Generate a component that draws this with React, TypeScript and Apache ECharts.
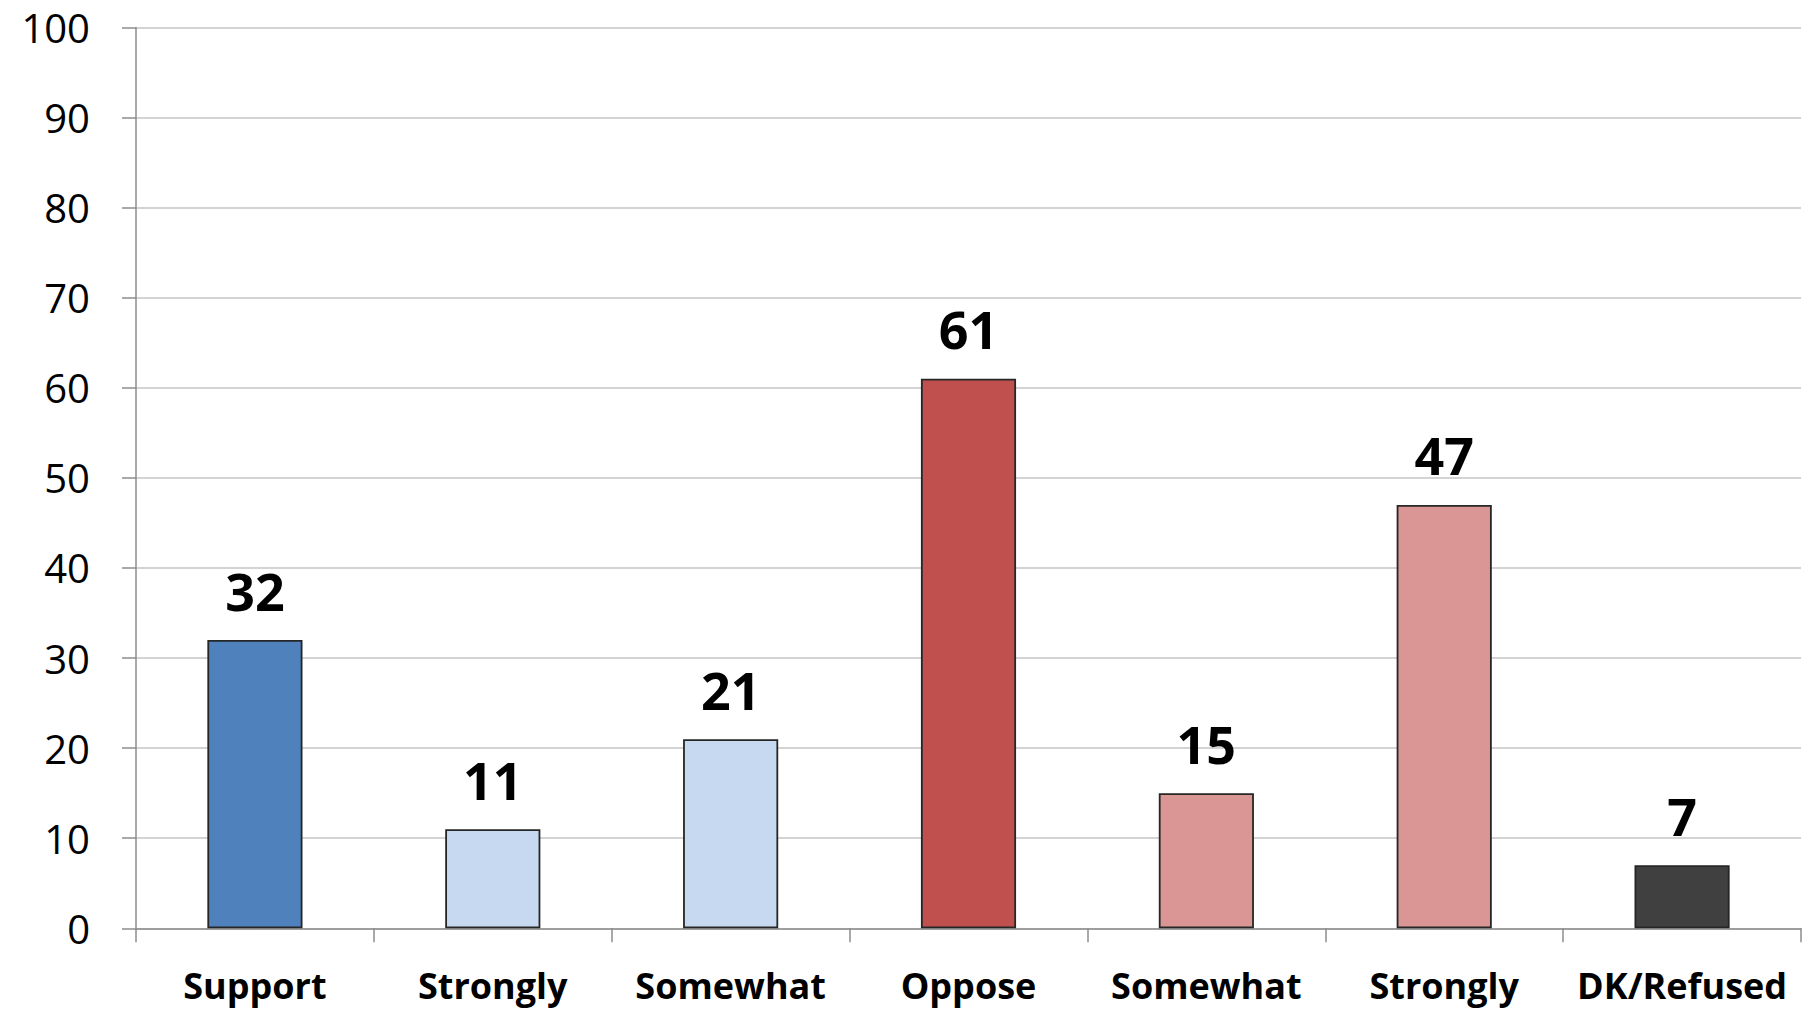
import React, { useEffect, useRef } from "react";
import * as echarts from "echarts";

const categories = ["Support", "Strongly", "Somewhat", "Oppose", "Somewhat", "Strongly", "DK/Refused"];
const values = [32, 11, 21, 61, 15, 47, 7];
const barColors = ["#4F81BD", "#C6D9F1", "#C6D9F1", "#C0504D", "#D99694", "#D99694", "#404040"];
const yTicks = { min: 0, max: 100, interval: 10 };

export default function App() {
  const ref = useRef<HTMLDivElement>(null);
  useEffect(() => {
    document.body.style.margin = "0";
    const chart = echarts.init(ref.current!, undefined, { renderer: "svg" });
    chart.setOption({
      animation: false,
      backgroundColor: "#ffffff",
      grid: { left: 136, right: 4, top: 27.5, bottom: 80.7, containLabel: false },
      xAxis: {
        type: "category",
        data: categories,
        axisLine: { show: true, lineStyle: { color: "#8c8c8c", width: 1.5 } },
        axisTick: { show: true, length: 14, lineStyle: { color: "#8c8c8c", width: 1.5 } },
        axisLabel: {
          interval: 0,
          hideOverlap: false,
          margin: 39,
          color: "#000",
          fontFamily: "Open Sans",
          fontWeight: "bold",
          fontSize: 36,
        },
      },
      yAxis: {
        type: "value",
        min: yTicks.min,
        max: yTicks.max,
        interval: yTicks.interval,
        axisLine: { show: true, lineStyle: { color: "#8c8c8c", width: 1.5 } },
        axisTick: { show: true, length: 14, lineStyle: { color: "#8c8c8c", width: 1.5 } },
        splitLine: { show: true, lineStyle: { color: "#c4c4c4", width: 1.5 } },
        axisLabel: {
          margin: 46,
          color: "#000",
          fontFamily: "Open Sans",
          fontSize: 40,
        },
      },
      series: [
        {
          type: "bar",
          barWidth: "40%",
          data: values.map((v, i) => ({
            value: v,
            itemStyle: { color: barColors[i], borderColor: "#262626", borderWidth: 1.8 },
          })),
          label: {
            show: true,
            position: "top",
            distance: 24,
            color: "#000",
            fontFamily: "Open Sans",
            fontWeight: "bold",
            fontSize: 52,
          },
        },
      ],
    });
    return () => chart.dispose();
  }, []);
  return <div ref={ref} style={{ width: 1805, height: 1009 }} />;
}
